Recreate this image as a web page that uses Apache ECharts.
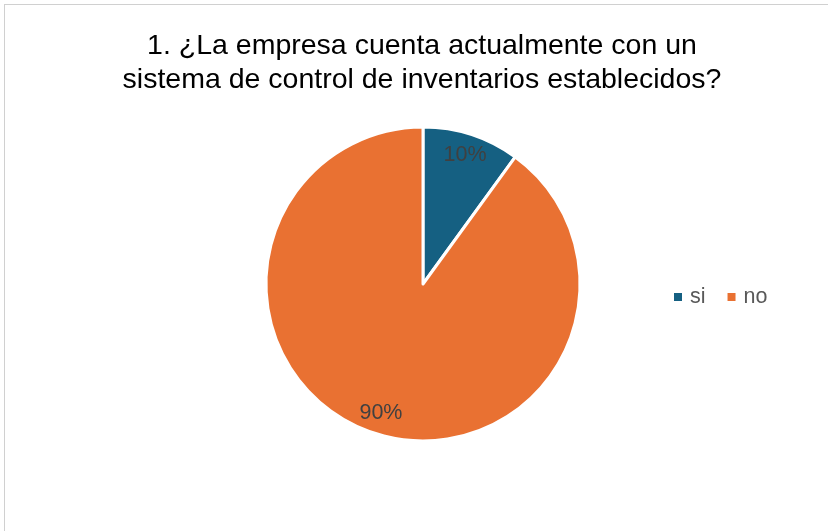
<!DOCTYPE html>
<html><head><meta charset="utf-8">
<script src="https://cdn.jsdelivr.net/npm/echarts@6/dist/echarts.min.js"></script>
<style>
html,body{margin:0;padding:0;background:#fff;overflow:hidden;}
#frame{position:absolute;left:4px;top:4px;width:840px;height:540px;border:1px solid #d0d0d0;box-sizing:border-box;}
#c{position:absolute;left:0;top:0;width:828px;height:531px;}
</style></head>
<body>
<div id="frame"></div>
<div id="c"></div>
<script>
const titleText = "1. ¿La empresa cuenta actualmente con un\nsistema de control de inventarios establecidos?";
const categories = ["si", "no"];
const values = [10, 90];
const colors = ["#156082", "#E97132"];

const data = categories.map((n, i) => ({ name: n, value: values[i] }));
const chart = echarts.init(document.getElementById('c'), null, { renderer: 'canvas' });
chart.setOption({
  animation: false,
  color: colors,
  title: {
    text: titleText,
    left: 417, top: 24, textAlign: 'center',
    textStyle: { fontFamily: 'Liberation Sans, Arial', fontSize: 28.5, fontWeight: 'normal', color: '#000', lineHeight: 34 }
  },
  legend: {
    data: categories,
    left: 667, top: 281,
    orient: 'horizontal',
    itemWidth: 10, itemHeight: 10, itemGap: 20,
    icon: 'rect',
    textStyle: { fontFamily: 'Liberation Sans, Arial', fontSize: 21.5, color: '#595959', padding: [0, 0, 0, 2] }
  },
  series: [
    {
      type: 'pie',
      center: [423, 284],
      radius: [0, 157],
      startAngle: 90,
      clockwise: true,
      data: data,
      label: { show: false },
      labelLine: { show: false },
      itemStyle: { borderColor: '#fff', borderWidth: 3 },
      emphasis: { disabled: true }
    },
    {
      type: 'pie',
      center: [423, 284],
      radius: [109, 157],
      startAngle: 90,
      clockwise: true,
      silent: true,
      data: data,
      itemStyle: { color: 'rgba(0,0,0,0)', borderWidth: 0 },
      label: {
        show: true, position: 'inside',
        formatter: p => p.value + '%',
        fontFamily: 'Liberation Sans, Arial', fontSize: 21.5, color: '#404040'
      },
      labelLine: { show: false },
      emphasis: { disabled: true }
    }
  ]
});
</script>
</body></html>
